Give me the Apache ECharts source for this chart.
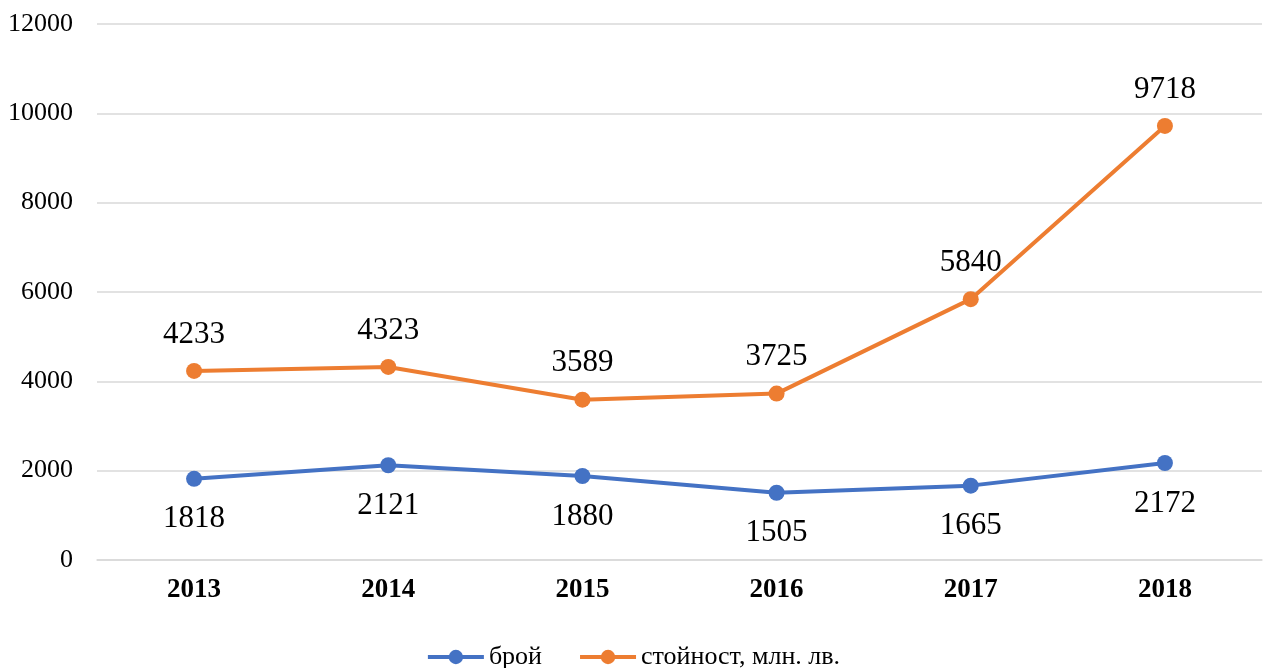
<!DOCTYPE html>
<html>
<head>
<meta charset="utf-8">
<script src="https://cdn.jsdelivr.net/npm/echarts@6/dist/echarts.min.js"></script>
<style>html,body{margin:0;padding:0;background:#fff}#c{width:1266px;height:668px}</style>
</head>
<body>
<div id="c"></div>
<script>
var categories = ['2013','2014','2015','2016','2017','2018'];
var seriesNames = ['брой','стойност, млн. лв.'];
var countValues = [1818, 2121, 1880, 1505, 1665, 2172];
var valueValues = [4233, 4323, 3589, 3725, 5840, 9718];
var yTicks = {min: 0, max: 12000, interval: 2000};

var font = '"Liberation Serif", "Times New Roman", serif';
var chart = echarts.init(document.getElementById('c'));
chart.setOption({
  animation: false,
  textStyle: {fontFamily: font},
  grid: {left: 97, right: 4, top: 24, bottom: 108, containLabel: false},
  legend: {
    top: 639, left: 'center', itemWidth: 56, itemHeight: 18, itemGap: 36,
    lineStyle: {width: 4},
    textStyle: {fontFamily: font, fontSize: 26, color: '#000'},
    data: seriesNames
  },
  xAxis: {
    type: 'category', data: categories, boundaryGap: true,
    axisLine: {show: true, lineStyle: {color: '#d9d9d9', width: 1.5}},
    axisTick: {show: false},
    axisLabel: {fontFamily: font, fontSize: 27, fontWeight: 'bold', color: '#000', margin: 17}
  },
  yAxis: {
    type: 'value', min: yTicks.min, max: yTicks.max, interval: yTicks.interval,
    axisLine: {show: false}, axisTick: {show: false},
    splitLine: {lineStyle: {color: '#d9d9d9', width: 1.5}},
    axisLabel: {fontFamily: font, fontSize: 26, color: '#000', margin: 24,
      formatter: function (v) { return String(v); }}
  },
  series: [
    {
      name: seriesNames[0], type: 'line', data: countValues,
      symbol: 'circle', symbolSize: 16,
      lineStyle: {color: '#4472C4', width: 4},
      itemStyle: {color: '#4472C4'},
      label: {show: true, position: 'bottom', distance: 17, fontFamily: font, fontSize: 31, color: '#000'}
    },
    {
      name: seriesNames[1], type: 'line', data: valueValues,
      symbol: 'circle', symbolSize: 16,
      lineStyle: {color: '#ED7D31', width: 4},
      itemStyle: {color: '#ED7D31'},
      label: {show: true, position: 'top', distance: 13, fontFamily: font, fontSize: 31, color: '#000'}
    }
  ]
});
</script>
</body>
</html>
